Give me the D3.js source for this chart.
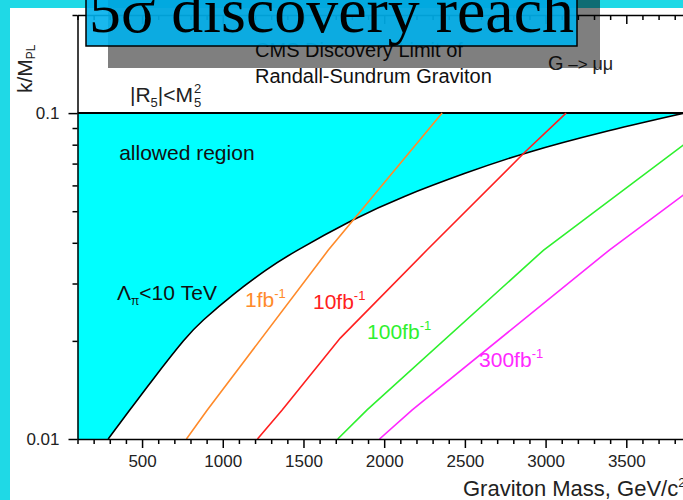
<!DOCTYPE html>
<html>
<head>
<meta charset="utf-8">
<script src="https://cdn.jsdelivr.net/npm/d3@7/dist/d3.min.js"></script>
<style>
  html, body { margin: 0; padding: 0; background: #1fd9e6; }
  svg { display: block; font-family: "Liberation Sans", Arial, Helvetica, sans-serif; }
</style>
</head>
<body>
<svg id="chart" width="683" height="500"></svg>
<script>
// Axis ticks
const massMajorTicks = [500, 1000, 1500, 2000, 2500, 3000, 3500];
const massMinorTicks = d3.range(100, 4001, 100).filter(v => v % 500 !== 0);
const couplingMajorTicks = [0.01, 0.1];
const couplingMinorTicks = [0.02, 0.03, 0.04, 0.05, 0.06, 0.07, 0.08, 0.09, 0.2];

// Lambda_pi < 10 TeV boundary: [graviton mass (GeV/c^2), k/M_PL]
const lambdaBoundary = [
  [290, 0.0100], [420, 0.0122], [551, 0.0149], [780, 0.0208], [861, 0.0228],
  [1066, 0.0279], [1277, 0.0333], [1418, 0.0370], [1821, 0.0477], [2099, 0.0551],
  [2515, 0.0659], [2874, 0.0757], [3339, 0.0873], [3860, 0.1000]
];

// 5 sigma discovery reach, G -> mu mu, per integrated luminosity
const reach1fb   = [[775, 0.0100], [904, 0.01228], [1654, 0.0380], [2359, 0.1000]];
const reach10fb  = [[1215, 0.0100], [1368, 0.01228], [1728, 0.0204], [2265, 0.0380], [2874, 0.0761], [3127, 0.1000]];
const reach100fb = [[1712, 0.0100], [1894, 0.01228], [2988, 0.0380], [3853, 0.0798], [4000, 0.0906]];
const reach300fb = [[1971, 0.0100], [2174, 0.01228], [3395, 0.0380], [3853, 0.0560], [4000, 0.0636]];

const lumiNames  = ["1", "10", "100", "300"];
const lumiColors = ["#ff8a2a", "#ff2020", "#2ef02e", "#ff28ff"];
const lumiSeries = [reach1fb, reach10fb, reach100fb, reach300fb];
// label anchor in data space [mass, k/M_PL]
const lumiLabelAt = [[1138, 0.0254], [1559, 0.0250], [1894, 0.0203], [2588, 0.0166]];

const svg = d3.select("#chart");
const W = 683, H = 500;
const SANS = "'Liberation Sans', Arial, Helvetica, sans-serif";
const SERIF = "'Liberation Serif', 'Times New Roman', Times, serif";

const x = d3.scaleLinear().domain([100, 4000]).range([77.5, 707]);
const y = d3.scaleLog().domain([0.01, 0.2]).range([439, 15]);

// slide panel
svg.append("rect").attr("x", 10).attr("y", 8).attr("width", W - 10).attr("height", H - 8)
  .attr("fill", "#ffffff");

svg.append("clipPath").attr("id", "frame").append("rect")
  .attr("x", x(100)).attr("y", y(0.2)).attr("width", x(4000) - x(100)).attr("height", y(0.01) - y(0.2));

const plot = svg.append("g").attr("clip-path", "url(#frame)");

const smooth = d3.line().curve(d3.curveBasis).x(d => x(d[0])).y(d => y(d[1]));
const line = d3.line().x(d => x(d[0])).y(d => y(d[1]));

// allowed region: below k/M_PL = 0.1 and left of the Lambda_pi boundary
const boundaryPath = smooth(lambdaBoundary);
const x0 = x(100), yTop = y(0.1), yBot = y(0.01);
const last = lambdaBoundary[lambdaBoundary.length - 1];
plot.append("path")
  .attr("d", `${boundaryPath}L${x(last[0])},${yTop}L${x0},${yTop}L${x0},${yBot}Z`)
  .attr("fill", "#00ffff");

plot.append("path")
  .attr("d", boundaryPath)
  .attr("fill", "none").attr("stroke", "#000").attr("stroke-width", 1.6);

plot.append("line")
  .attr("x1", x0).attr("x2", x(last[0]))
  .attr("y1", yTop).attr("y2", yTop)
  .attr("stroke", "#000").attr("stroke-width", 2);

// reach curves
lumiSeries.forEach((s, i) => {
  plot.append("path").attr("d", line(s))
    .attr("fill", "none").attr("stroke", lumiColors[i]).attr("stroke-width", 1.6);
});

// axes
function styleAxis(g) {
  g.select(".domain").attr("stroke", "#000").attr("stroke-width", 1.5);
  g.selectAll(".tick line").attr("stroke", "#000").attr("stroke-width", 1.5);
  g.selectAll(".tick text").attr("fill", "#222").attr("font-size", 17).attr("font-family", SANS);
}

const gB = svg.append("g").attr("transform", `translate(0,${y(0.01)})`);
gB.call(d3.axisBottom(x).tickValues(massMinorTicks).tickSize(5).tickSizeOuter(0).tickFormat(""));
gB.append("g").call(d3.axisBottom(x).tickValues(massMajorTicks).tickSize(9).tickSizeOuter(0).tickPadding(7).tickFormat(d3.format("d")))
  .call(g => g.select(".domain").remove());
styleAxis(gB);

const gT = svg.append("g").attr("transform", `translate(0,${y(0.2)})`);
gT.call(d3.axisTop(x).tickValues(massMinorTicks).tickSize(-5).tickSizeOuter(0).tickFormat(""));
gT.append("g").call(d3.axisTop(x).tickValues(massMajorTicks).tickSize(-9).tickSizeOuter(0).tickFormat(""))
  .call(g => g.select(".domain").remove());
styleAxis(gT);

const gL = svg.append("g").attr("transform", `translate(${x(100)},0)`);
gL.call(d3.axisLeft(y).tickValues(couplingMinorTicks).tickSize(5).tickSizeOuter(0).tickFormat(""));
gL.append("g").call(d3.axisLeft(y).tickValues(couplingMajorTicks).tickSize(9).tickSizeOuter(0).tickPadding(9).tickFormat(d => String(d)))
  .call(g => g.select(".domain").remove());
styleAxis(gL);

const gR = svg.append("g").attr("transform", `translate(${x(4000)},0)`);
gR.call(d3.axisRight(y).tickValues(couplingMinorTicks).tickSize(-5).tickSizeOuter(0).tickFormat(""));
styleAxis(gR);

// axis titles
svg.append("text").attr("x", 463).attr("y", 496).attr("font-size", 22).attr("fill", "#222")
  .text("Graviton Mass, GeV/c")
  .append("tspan").attr("font-size", 13).attr("dy", -9).text("2");

const yTitle = svg.append("text").attr("transform", "translate(32,93) rotate(-90)")
  .attr("font-size", 21).attr("fill", "#222");
yTitle.append("tspan").text("k/M");
yTitle.append("tspan").attr("font-size", 12).attr("dy", 3).text("PL");

// in-plot annotations
svg.append("text").attr("x", x(358)).attr("y", y(0.0718)).attr("font-size", 21).attr("fill", "#111")
  .text("allowed region");

const lam = svg.append("text").attr("x", x(345)).attr("y", y(0.0267)).attr("font-size", 21).attr("fill", "#111");
lam.append("tspan").text("Λ");
lam.append("tspan").attr("font-size", 12).attr("dy", 5).text("π");
lam.append("tspan").attr("dy", -5).text("<10 TeV");

lumiNames.forEach((n, i) => {
  const t = svg.append("text").attr("x", x(lumiLabelAt[i][0])).attr("y", y(lumiLabelAt[i][1]))
    .attr("font-size", 21).attr("fill", lumiColors[i]);
  t.append("tspan").text(n + "fb");
  t.append("tspan").attr("font-size", 13).attr("dy", -9).text("-1");
});

// curvature bound label |R5| < M5^2
const rx = x(425), ry = y(0.1081);
const r1 = svg.append("text").attr("x", rx).attr("y", ry).attr("font-size", 21).attr("fill", "#222");
r1.append("tspan").text("|R");
r1.append("tspan").attr("font-size", 13).attr("dy", 5).text("5");
r1.append("tspan").attr("dy", -5).text("|<M");
const rEnd = rx + r1.node().getComputedTextLength();
svg.append("text").attr("x", rEnd + 1).attr("y", ry - 9).attr("font-size", 13).attr("fill", "#222").text("2");
svg.append("text").attr("x", rEnd + 1).attr("y", ry + 5).attr("font-size", 13).attr("fill", "#222").text("5");

svg.append("text").attr("x", x(1200)).attr("y", y(0.1486)).attr("font-size", 20).attr("fill", "#111")
  .text("CMS Discovery Limit of");
svg.append("text").attr("x", x(1200)).attr("y", y(0.1237)).attr("font-size", 20).attr("fill", "#111")
  .text("Randall-Sundrum Graviton");

const gm = svg.append("text").attr("x", x(3015)).attr("y", y(0.1355)).attr("font-size", 20).attr("fill", "#222");
gm.append("tspan").text("G");
gm.append("tspan").attr("font-size", 17).text(" –> ");
gm.append("tspan").attr("font-size", 18).text("μμ");

// slide overlays
svg.append("rect").attr("x", 108).attr("y", -2).attr("width", 492).attr("height", 70)
  .attr("fill", "#000").attr("fill-opacity", 0.5);
svg.append("rect").attr("x", 86).attr("y", -2).attr("width", 491).attr("height", 48)
  .attr("fill", "#00b0ec").attr("fill-opacity", 0.9).attr("stroke", "#000").attr("stroke-width", 1.5);
svg.append("text").attr("x", 89).attr("y", 32)
  .style("font-family", SERIF).attr("font-size", 64).attr("fill", "#000")
  .attr("textLength", 485).attr("lengthAdjust", "spacingAndGlyphs")
  .text("5σ discovery reach");
</script>
</body>
</html>
